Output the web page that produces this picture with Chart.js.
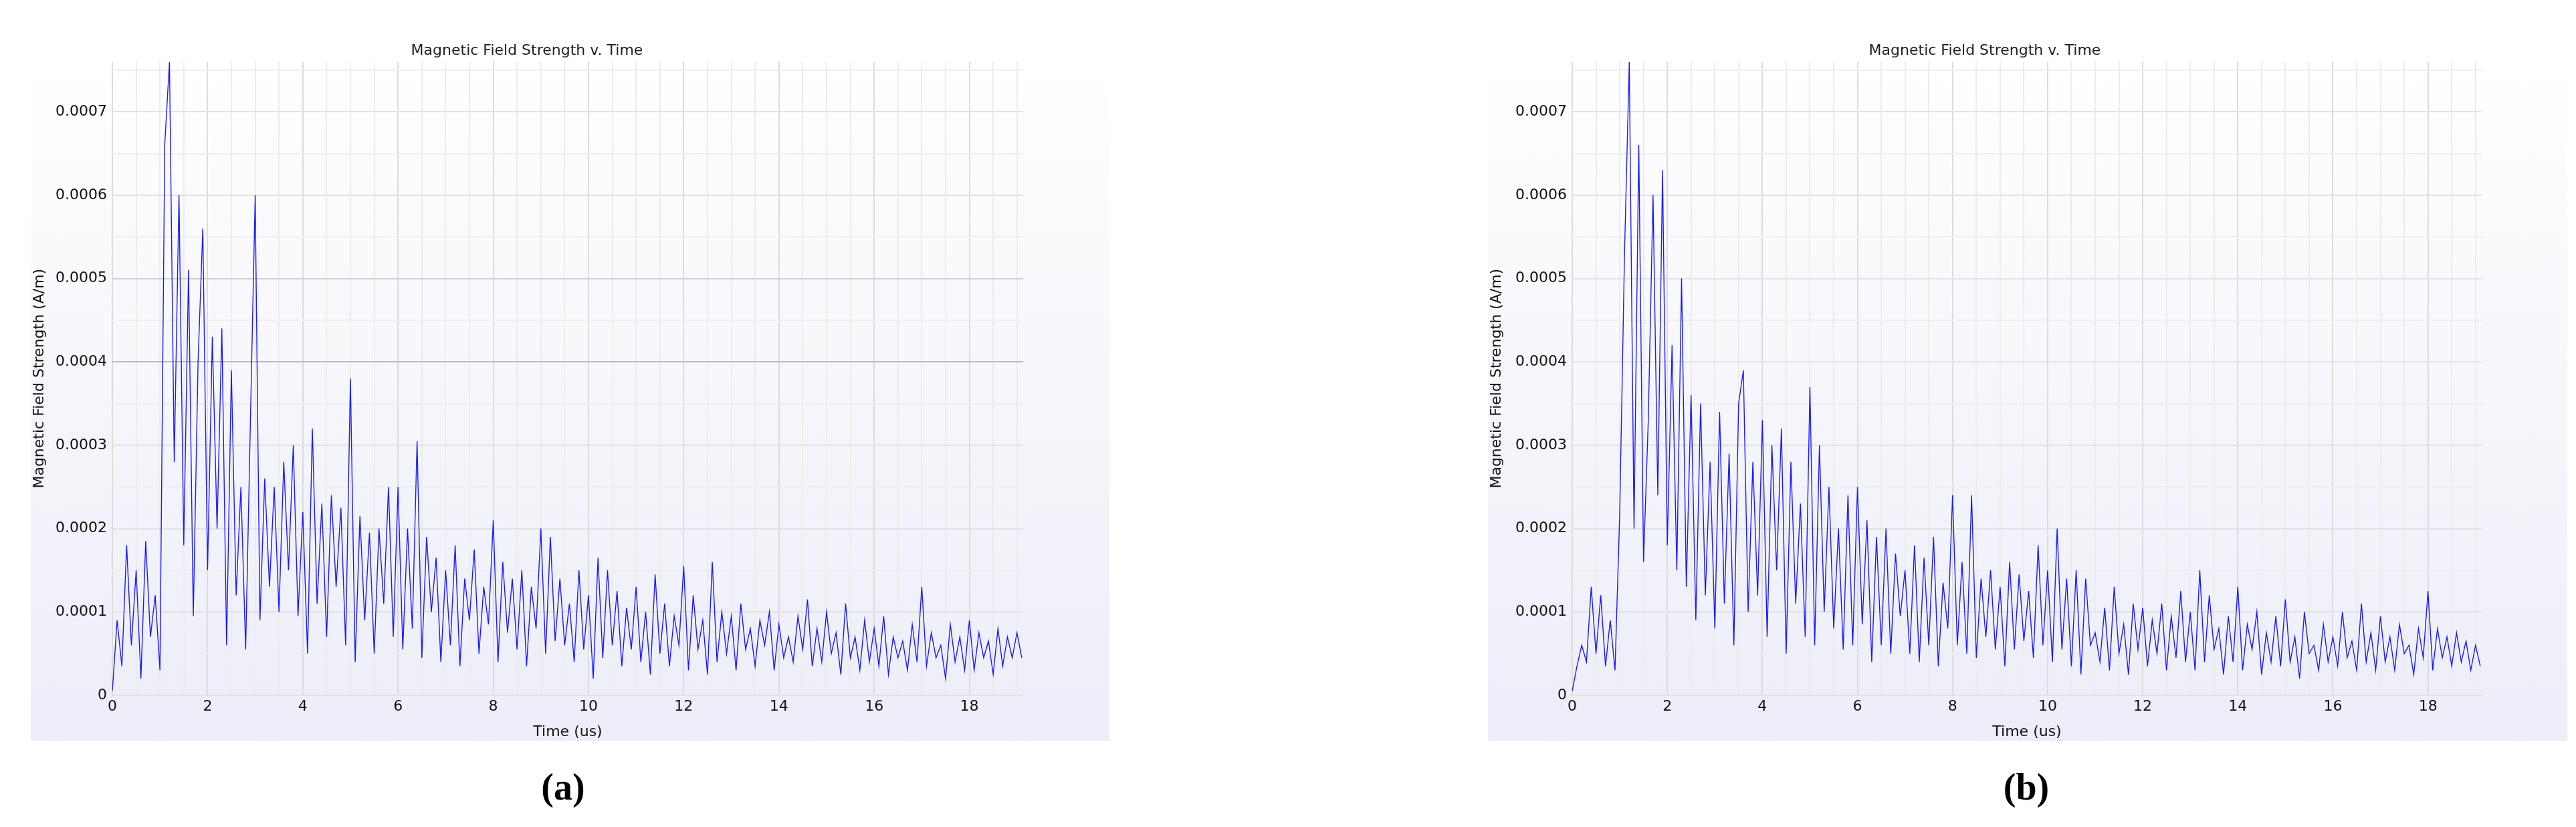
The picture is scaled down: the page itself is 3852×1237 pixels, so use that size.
<!DOCTYPE html>
<html><head><meta charset="utf-8">
<script src="https://cdn.jsdelivr.net/npm/chart.js@4"></script>
<style>
body{margin:0;background:#fff;width:3852px;height:1237px;position:relative;overflow:hidden;font-family:"DejaVu Sans";}
.bg{position:absolute;top:92px;height:1016px;background:linear-gradient(#ffffff,#ecedf8);}
.cv{position:absolute;top:0;height:1108px;}
.lab{position:absolute;top:1145px;font:bold 56px "Liberation Serif";width:200px;text-align:center;}
</style></head><body>
<div class="bg" style="left:46px;width:1613px"></div>
<div class="bg" style="left:2225px;width:1614px"></div>
<div class="cv" style="left:46px;width:1613px"><canvas id="ca"></canvas></div>
<div class="cv" style="left:2225px;width:1614px"><canvas id="cb"></canvas></div>
<div class="lab" style="left:742px">(a)</div>
<div class="lab" style="left:2930px">(b)</div>
<script>
// time step 0.1 us, values in micro A/m (x1e-6)
const timeStep = 0.1;
const seriesA = [5,90,35,180,60,150,20,185,70,120,
30,660,760,280,600,180,510,95,400,560,
150,430,200,440,60,390,120,250,55,330,
600,90,260,130,250,100,280,150,300,95,
220,50,320,110,230,70,240,130,225,60,
380,40,215,90,195,50,200,110,250,70,
250,55,200,80,305,45,190,100,165,40,
150,60,180,35,140,90,175,50,130,85,
210,40,160,75,140,55,150,35,130,80,
200,50,190,65,140,60,110,40,150,55,
120,20,165,45,150,60,125,35,105,55,
130,40,100,25,145,50,110,35,95,60,
155,30,120,55,90,25,160,40,100,50,
95,30,110,55,80,35,90,60,100,30,
85,45,70,40,95,55,115,35,80,40,
100,50,75,25,110,45,70,30,90,40,
80,35,95,25,70,45,65,30,85,40,
130,35,75,45,60,20,85,40,70,30,
90,30,75,45,65,25,80,35,70,45,
75,45];
const seriesB = [5,35,60,40,130,50,120,35,90,30,
220,530,760,200,660,160,330,600,240,630,
180,420,150,500,130,360,90,350,120,280,
80,340,110,290,60,350,390,100,280,120,
330,70,300,150,320,50,280,110,230,70,
370,60,300,100,250,80,200,55,240,60,
250,85,210,40,190,60,200,50,170,95,
150,50,180,40,165,60,190,35,135,80,
240,60,160,50,240,45,140,70,150,55,
130,35,160,55,145,65,125,45,180,60,
150,40,200,55,140,35,150,25,140,60,
75,40,105,30,130,50,85,25,110,55,
105,35,90,50,110,30,95,45,125,40,
100,30,150,40,120,55,80,25,95,40,
130,30,85,55,100,25,75,40,95,35,
115,40,70,20,100,50,60,30,85,40,
70,35,100,45,65,30,110,40,75,30,
95,40,70,30,85,50,60,25,80,45,
125,30,80,45,70,35,75,40,65,30,
60,35];
const xTicks = [0,2,4,6,8,10,12,14,16,18];
const yTicks = [0,0.0001,0.0002,0.0003,0.0004,0.0005,0.0006,0.0007];
const titleText = 'Magnetic Field Strength v. Time';
const xTitle = 'Time (us)';
const yTitle = 'Magnetic Field Strength (A/m)';

function pts(arr){return arr.map((v,i)=>({x:+(i*timeStep).toFixed(2),y:v*1e-6}));}
function make(id,data,leftW,rightPad,dark){
  new Chart(document.getElementById(id),{
    type:'scatter',
    data:{datasets:[{data:pts(data),showLine:true,borderColor:'#1a1aff',borderWidth:1.4,pointRadius:0,tension:0}]},
    options:{responsive:true,maintainAspectRatio:false,animation:false,
      layout:{padding:{left:0,right:rightPad,top:0,bottom:0}},
      plugins:{legend:{display:false},tooltip:{enabled:false},
        title:{display:true,text:titleText,color:'#222',font:{family:'DejaVu Sans',size:22,weight:'normal'},padding:{top:63,bottom:3}}},
      scales:{
        x:{type:'linear',min:0,max:19.13,
          afterBuildTicks:s=>{const t=[];for(let i=0;i<=38;i++)t.push({value:i*0.5});s.ticks=t;},
          ticks:{color:'#111',font:{family:'DejaVu Sans',size:22},padding:4,maxRotation:0,autoSkip:false,
            callback:v=>xTicks.includes(v)?String(v):''},
          grid:{color:c=>(c.tick&&xTicks.includes(c.tick.value))?'#dcdcdc':'#ececec',lineWidth:2,drawTicks:false},
          border:{display:false},
          title:{display:true,text:xTitle,color:'#111',font:{family:'DejaVu Sans',size:22},padding:0},
          afterFit:s=>{s.height=68;}},
        y:{min:0,max:0.00076,
          afterBuildTicks:s=>{const t=[];for(let i=0;i<=15;i++)t.push({value:i*0.00005});s.ticks=t;},
          ticks:{color:'#111',font:{family:'DejaVu Sans',size:22},padding:8,autoSkip:false,
            callback:v=>{const k=Math.round(v/0.00005);if(k%2)return '';return k===0?'0':(v).toFixed(4);}},
          grid:{color:c=>{const k=c.tick?Math.round(c.tick.value/0.00005):1;if(dark&&k===8)return '#b8b8b8';if(dark&&k===10)return '#d0d0d0';return k%2?'#eeeeee':'#e2e2e2';},lineWidth:2,drawTicks:false},
          border:{display:false},
          title:{display:true,text:yTitle,color:'#111',font:{family:'DejaVu Sans',size:22},padding:{top:0,bottom:4}},
          afterFit:s=>{s.width=leftW;}}
      }}
  });
}
make('ca',seriesA,122,129,true);
make('cb',seriesB,126,128,false);
</script></body></html>
